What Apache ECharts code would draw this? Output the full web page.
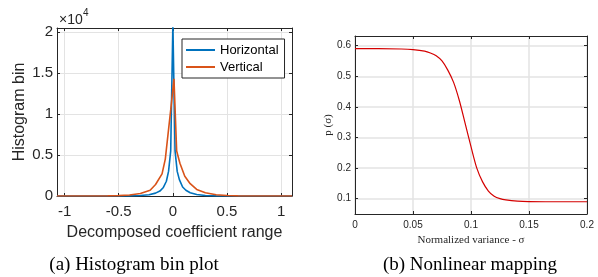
<!DOCTYPE html>
<html lang="en">
<head>
<meta charset="UTF-8">
<title>Histogram bin plot / Nonlinear mapping</title>
<script src="https://cdn.jsdelivr.net/npm/echarts@6/dist/echarts.min.js"></script>
<style>
  html, body { margin: 0; padding: 0; background: #fff; }
  #main { width: 598px; height: 277px; }
</style>
</head>
<body>
<div id="main"></div>
<script>
// (a) histogram of decomposed coefficients, values in units of 1e4
var horizX = [-1.07, -0.6, -0.4, -0.3, -0.22, -0.16, -0.12, -0.09, -0.06, -0.04, -0.02, 0, 0.02, 0.04, 0.06, 0.09, 0.12, 0.16, 0.22, 0.3, 0.4, 0.6, 1.1];
var horizY = [0, 0, 0.002, 0.006, 0.015, 0.035, 0.06, 0.1, 0.18, 0.3, 0.55, 2.1, 0.55, 0.3, 0.2, 0.11, 0.07, 0.04, 0.018, 0.007, 0.002, 0, 0];
var vertX = [-1.07, -0.7, -0.6, -0.5, -0.4, -0.3, -0.21, -0.16, -0.1, -0.07, -0.02, 0.01, 0.035, 0.065, 0.11, 0.16, 0.22, 0.3, 0.4, 0.5, 0.6, 0.7, 1.1];
var vertY = [0, 0, 0.002, 0.005, 0.012, 0.03, 0.07, 0.14, 0.27, 0.45, 1.05, 1.43, 0.55, 0.4, 0.24, 0.15, 0.08, 0.04, 0.015, 0.006, 0.002, 0, 0];
var histTicksX = [-1, -0.5, 0, 0.5, 1];
var histTicksY = [0, 0.5, 1, 1.5, 2];

// (b) nonlinear mapping p(sigma)
var sigmaX = [0, 0.02, 0.04, 0.05, 0.06, 0.065, 0.07, 0.075, 0.08, 0.085, 0.09, 0.095, 0.1, 0.105, 0.11, 0.115, 0.12, 0.125, 0.13, 0.14, 0.15, 0.17, 0.2];
var sigmaP = [0.59, 0.59, 0.589, 0.587, 0.582, 0.576, 0.567, 0.55, 0.52, 0.48, 0.42, 0.345, 0.27, 0.2, 0.155, 0.125, 0.108, 0.1, 0.096, 0.092, 0.0905, 0.09, 0.09];
var mapTicksX = [0, 0.05, 0.1, 0.15, 0.2];
var mapTicksY = [0.1, 0.2, 0.3, 0.4, 0.5, 0.6];

function zip(xs, ys, k) {
  return xs.map(function (x, i) { return [x, ys[i] * k]; });
}

var ink = '#262626';
var gridCol = '#e3e3e3';
var sans = '"Liberation Sans", Arial, sans-serif';
var serif = '"Liberation Serif", "Times New Roman", serif';
var histTicksYRaw = histTicksY.map(function (v) { return v * 1e4; });

function boxAxis(grid, pos, min, max, ticks) {
  return {
    type: 'value', gridIndex: grid, position: pos, min: min, max: max,
    axisLine: { show: true, onZero: false, lineStyle: { color: ink, width: 1 } },
    axisTick: { show: true, inside: true, length: 3, customValues: ticks, lineStyle: { color: ink } },
    axisLabel: { show: false },
    splitLine: { show: false }
  };
}

var myChart = echarts.init(document.getElementById('main'));
myChart.setOption({
  backgroundColor: '#fff',
  animation: false,
  grid: [
    { left: 57, right: 306, top: 28, bottom: 81 },
    { left: 355, right: 11, top: 36, bottom: 63 }
  ],
  legend: {
    left: 182, top: 39,
    orient: 'vertical',
    icon: 'rect',
    padding: [4, 6, 4, 4],
    itemGap: 3, itemWidth: 29, itemHeight: 2,
    backgroundColor: '#fff', borderColor: ink, borderWidth: 1, borderRadius: 0,
    textStyle: { fontFamily: sans, fontSize: 13, color: '#000', lineHeight: 14 },
    data: ['Horizontal', 'Vertical']
  },
  xAxis: [
    {
      type: 'value', gridIndex: 0, position: 'bottom', min: -1.07, max: 1.1,
      name: 'Decomposed coefficient range', nameLocation: 'middle', nameGap: 29,
      nameTextStyle: { fontFamily: sans, fontSize: 16, color: ink },
      axisLine: { show: true, onZero: false, lineStyle: { color: ink } },
      axisTick: { show: true, inside: true, length: 3, customValues: histTicksX, lineStyle: { color: ink } },
      axisLabel: { customValues: histTicksX, margin: 8, fontFamily: sans, fontSize: 15, color: ink },
      splitLine: { show: true, lineStyle: { color: gridCol } }
    },
    boxAxis(0, 'top', -1.07, 1.1, histTicksX),
    {
      type: 'value', gridIndex: 1, position: 'bottom', min: 0, max: 0.2,
      name: 'Normalized variance - σ', nameLocation: 'middle', nameGap: 16,
      nameTextStyle: { fontFamily: serif, fontSize: 11, color: ink },
      axisLine: { show: true, onZero: false, lineStyle: { color: ink } },
      axisTick: { show: true, inside: true, length: 3, customValues: mapTicksX, lineStyle: { color: ink } },
      axisLabel: { customValues: mapTicksX, margin: 6, fontFamily: sans, fontSize: 10, color: ink },
      splitLine: { show: true, lineStyle: { color: gridCol, width: 1.5 } }
    },
    boxAxis(1, 'top', 0, 0.2, mapTicksX)
  ],
  yAxis: [
    {
      type: 'value', gridIndex: 0, position: 'left', min: 0, max: 2.05e4,
      name: 'Histogram bin', nameLocation: 'middle', nameGap: 29,
      nameTextStyle: { fontFamily: sans, fontSize: 16, color: ink },
      axisLine: { show: true, onZero: false, lineStyle: { color: ink } },
      axisTick: { show: true, inside: true, length: 3, customValues: histTicksYRaw, lineStyle: { color: ink } },
      axisLabel: {
        customValues: histTicksYRaw,
        margin: 4, fontFamily: sans, fontSize: 15, color: ink,
        formatter: function (v) { return String(Math.round(v / 1000) / 10); }
      },
      splitLine: { show: true, lineStyle: { color: gridCol } }
    },
    boxAxis(0, 'right', 0, 2.05e4, histTicksYRaw),
    {
      type: 'value', gridIndex: 1, position: 'left', min: 0.05, max: 0.6315,
      name: 'p (σ)', nameLocation: 'middle', nameGap: 17,
      nameTextStyle: { fontFamily: serif, fontSize: 11, color: ink },
      axisLine: { show: true, onZero: false, lineStyle: { color: ink } },
      axisTick: { show: true, inside: true, length: 3, customValues: mapTicksY, lineStyle: { color: ink } },
      axisLabel: { customValues: mapTicksY, margin: 4, fontFamily: sans, fontSize: 10, color: ink },
      splitLine: { show: true, lineStyle: { color: gridCol, width: 1.5 } }
    },
    boxAxis(1, 'right', 0.05, 0.6315, mapTicksY)
  ],
  series: [
    {
      name: 'Horizontal', type: 'line', xAxisIndex: 0, yAxisIndex: 0,
      symbol: 'none', lineStyle: { color: '#0072BD', width: 1.6 }, itemStyle: { color: '#0072BD' },
      data: zip(horizX, horizY, 1e4)
    },
    {
      name: 'Vertical', type: 'line', xAxisIndex: 0, yAxisIndex: 0,
      symbol: 'none', lineStyle: { color: '#D95319', width: 1.6 }, itemStyle: { color: '#D95319' },
      data: zip(vertX, vertY, 1e4)
    },
    {
      name: 'p', type: 'line', xAxisIndex: 2, yAxisIndex: 2,
      symbol: 'none', smooth: 0.3, lineStyle: { color: '#d40000', width: 1.2 },
      data: zip(sigmaX, sigmaP, 1)
    }
  ],
  graphic: [
    { type: 'text', left: 59, top: 13, style: { text: '×10', font: '14px ' + sans, fill: ink } },
    { type: 'text', left: 83, top: 8, style: { text: '4', font: '10px ' + sans, fill: ink } },
    { type: 'text', x: 134, y: 265, style: { text: '(a) Histogram bin plot', font: '19px ' + serif, fill: '#000', textAlign: 'center', textVerticalAlign: 'middle' } },
    { type: 'text', x: 470, y: 265, style: { text: '(b) Nonlinear mapping', font: '19px ' + serif, fill: '#000', textAlign: 'center', textVerticalAlign: 'middle' } }
  ]
});
</script>
</body>
</html>
